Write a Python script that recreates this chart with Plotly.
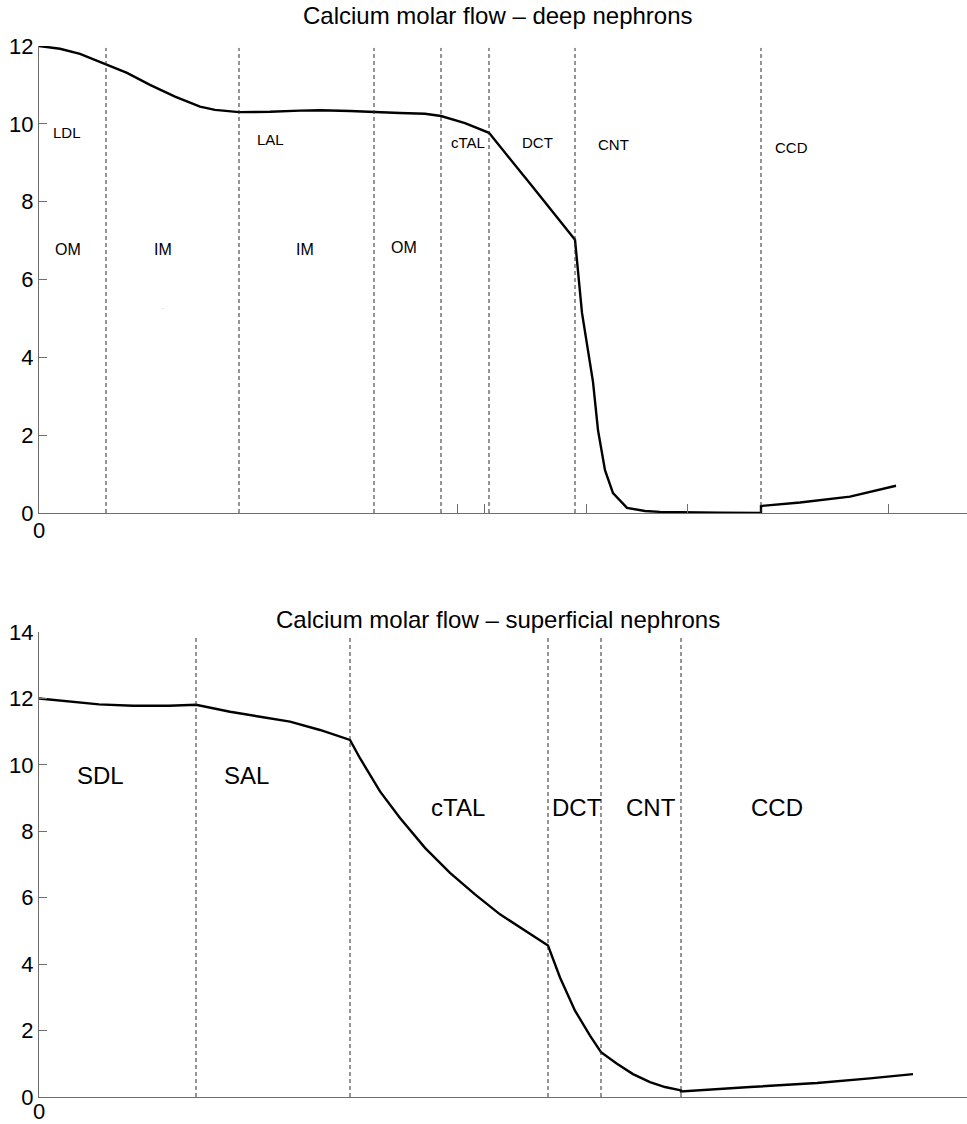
import plotly.graph_objects as go

# ---------------- data (x = position along the nephron, arbitrary units) ----------------
deep_x = [0, 21, 41, 67, 88, 111, 136, 161, 176, 200, 231, 261, 281, 311, 335, 361, 386, 402,
          426, 450, 493, 536, 543, 554, 559, 566, 574, 588, 606, 621, 681, 722,
          722, 761, 811, 857]
deep_y = [12.0, 11.93, 11.8, 11.52, 11.31, 11.0, 10.7, 10.44, 10.36, 10.3, 10.31, 10.34, 10.35, 10.33,
          10.3, 10.28, 10.26, 10.2, 10.02, 9.77, 8.4, 7.02, 5.14, 3.37, 2.13, 1.1, 0.51, 0.13,
          0.05, 0.03, 0.01, 0.0, 0.18, 0.27, 0.42, 0.7]
deep_bounds = [67, 200, 335, 402, 450, 536, 722]
deep_ticks = [0, 418, 445, 547, 648, 849]
deep_seg_labels = ["LDL", "LAL", "cTAL", "DCT", "CNT", "CCD"]
deep_seg_x = [28, 231, 429, 498, 574, 752]
deep_seg_y = [9.79, 9.61, 9.51, 9.51, 9.46, 9.38]
deep_zone_labels = ["OM", "IM", "IM", "OM"]
deep_zone_x = [29, 124, 266, 365]
deep_zone_y = [6.76, 6.76, 6.76, 6.81]

sup_x = [0, 30, 60, 94, 130, 157, 191, 221, 251, 281, 311,
         321, 331, 341, 361, 386, 411, 436, 461, 486, 509,
         521, 536, 551, 562, 578, 594, 611, 626, 642,
         642, 711, 778, 831, 874]
sup_y = [12.0, 11.9, 11.82, 11.78, 11.78, 11.81, 11.6, 11.45, 11.3, 11.05, 10.75,
         10.2, 9.7, 9.2, 8.4, 7.5, 6.75, 6.1, 5.5, 5.0, 4.56,
         3.6, 2.6, 1.85, 1.35, 1.0, 0.69, 0.45, 0.3, 0.2,
         0.17, 0.3, 0.42, 0.56, 0.69]
sup_bounds = [157, 311, 509, 562, 642]
sup_seg_labels = ["SDL", "SAL", "cTAL", "DCT", "CNT", "CCD"]
sup_seg_x = [61, 207, 419, 538, 612, 738]
sup_seg_y = [9.67, 9.67, 8.73, 8.73, 8.73, 8.73]

titles = ["Calcium molar flow \u2013 deep nephrons", "Calcium molar flow \u2013 superficial nephrons"]

# ---------------- figure ----------------
W, H = 967, 1124
FONT = "Liberation Sans, Arial, Helvetica, sans-serif"
AX = "#6e6e6e"

fig = go.Figure()
fig.add_trace(go.Scatter(x=deep_x, y=deep_y, mode="lines", line=dict(color="black", width=2.4),
                         xaxis="x", yaxis="y", showlegend=False, hoverinfo="skip"))
fig.add_trace(go.Scatter(x=sup_x, y=sup_y, mode="lines", line=dict(color="black", width=2.4),
                         xaxis="x2", yaxis="y2", showlegend=False, hoverinfo="skip"))

xdom = [39 / W, 1.0]
xr = [0, 928]

axis_common = dict(showline=True, linecolor=AX, linewidth=1.2, showgrid=False, zeroline=False,
                   ticks="inside", tickcolor=AX, tickwidth=1, mirror=False, automargin=False,
                   tickfont=dict(family=FONT, size=22, color="black"))

fig.update_layout(
    width=W, height=H, margin=dict(l=0, r=0, t=0, b=0, pad=0, autoexpand=False),
    paper_bgcolor="white", plot_bgcolor="white",
    xaxis=dict(domain=xdom, range=xr, anchor="y", tickvals=deep_ticks, showticklabels=False,
               ticklen=9, **axis_common),
    yaxis=dict(domain=[1 - 513 / H, 1 - 46 / H], range=[0, 12], anchor="x",
               tickvals=[0, 2, 4, 6, 8, 10, 12], ticklen=8, **axis_common),
    xaxis2=dict(domain=xdom, range=xr, anchor="y2", tickvals=[0], showticklabels=False, ticklen=8,
                **axis_common),
    yaxis2=dict(domain=[1 - 1097 / H, 1 - 632 / H], range=[0, 14], anchor="x2",
                tickvals=[0, 2, 4, 6, 8, 10, 12, 14], ticklen=8, **axis_common),
)

shapes = []
for b in deep_bounds:
    shapes.append(dict(type="line", xref="x", yref="y", x0=b, x1=b, y0=0, y1=11.95,
                       line=dict(color="#2a2a2a", width=1, dash="4px,3px")))
for b in sup_bounds:
    shapes.append(dict(type="line", xref="x2", yref="y2", x0=b, x1=b, y0=0, y1=13.9,
                       line=dict(color="#2a2a2a", width=1, dash="4px,3px")))
fig.update_layout(shapes=shapes)

ann = []
for t, x, y in zip(deep_seg_labels, deep_seg_x, deep_seg_y):
    ann.append(dict(text=t, x=x, y=y, xref="x", yref="y", showarrow=False,
                    font=dict(family=FONT, size=15, color="black")))
for t, x, y in zip(deep_zone_labels, deep_zone_x, deep_zone_y):
    ann.append(dict(text=t, x=x, y=y, xref="x", yref="y", showarrow=False,
                    font=dict(family=FONT, size=16, color="black")))
ann.append(dict(text=".", x=124, y=5.3, xref="x", yref="y", showarrow=False,
                font=dict(family=FONT, size=6, color="#555555")))
for t, x, y in zip(sup_seg_labels, sup_seg_x, sup_seg_y):
    ann.append(dict(text=t, x=x, y=y, xref="x2", yref="y2", showarrow=False,
                    font=dict(family=FONT, size=24, color="black")))
# x-axis origin labels
ann.append(dict(text="0", x=39 / W, y=1 - 530 / H, xref="paper", yref="paper", showarrow=False,
                xanchor="center", yanchor="middle", font=dict(family=FONT, size=22, color="black")))
ann.append(dict(text="0", x=39 / W, y=1 - 1111 / H, xref="paper", yref="paper", showarrow=False,
                xanchor="center", yanchor="middle", font=dict(family=FONT, size=22, color="black")))
ann.append(dict(text=titles[0], x=498 / W, y=1.0, xref="paper", yref="paper",
                showarrow=False, xanchor="center", yanchor="top",
                font=dict(family=FONT, size=24, color="black")))
ann.append(dict(text=titles[1], x=498 / W, y=1 - 619 / H, xref="paper", yref="paper",
                showarrow=False, xanchor="center", yanchor="middle",
                font=dict(family=FONT, size=24, color="black")))
fig.update_layout(annotations=ann)

fig.write_html("out.html", config={"displayModeBar": False},
               post_script="document.body.style.margin='0';document.body.style.overflow='hidden';")
